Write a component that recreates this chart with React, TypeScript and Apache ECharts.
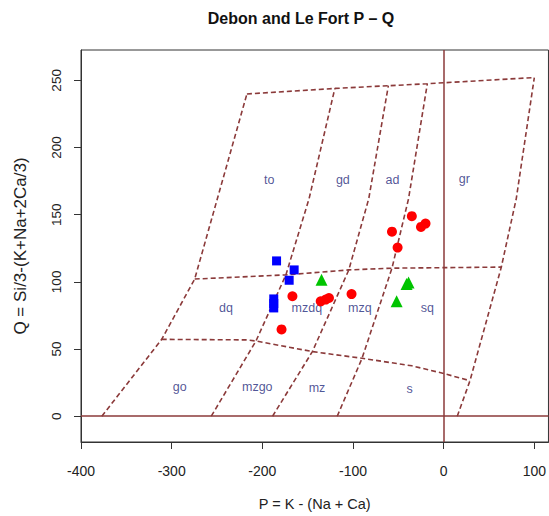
import { useEffect, useRef } from "react";
import * as echarts from "echarts";

// Axis ticks
const xTicks = [-400, -300, -200, -100, 0, 100];
const yTicks = [0, 50, 100, 150, 200, 250];

// Field boundaries of the P–Q diagram, as [P, Q] vertices
const upperBoundary = [[-217, 239.9], [-120, 244], [-61, 246], [-18, 247.5], [100, 252.1]];
const middleBoundary = [[-274.6, 102.1], [-174, 105.2], [-104.6, 108.9], [-57, 110.2], [63.6, 111]];
const lowerBoundary = [[-311, 57.2], [-218, 56.8], [-207, 56], [-144.8, 48.1], [-90, 43.1], [-35, 37.5], [0, 31.8], [29, 26.4]];
const divider1 = [[-377, 0], [-311, 57.2], [-274.6, 102.1], [-217, 239.9]];
const divider2 = [[-256.3, 0], [-207, 56], [-174, 105.2], [-148.4, 162], [-120, 244]];
const divider3 = [[-188.7, 0], [-144.8, 48.1], [-104.6, 108.9], [-82.6, 162], [-61, 246]];
const divider4 = [[-117.4, 0], [-90, 43.1], [-57, 110.2], [-38.7, 162], [-18, 247.5]];
const divider5 = [[15, 0], [29, 26.4], [63.6, 111], [80.1, 162], [100, 252.1]];

// Field names and their label positions [name, P, Q]
const fieldLabels: [string, number, number][] = [
  ["to", -192.3, 176.1],
  ["gd", -111.2, 176.1],
  ["ad", -56.4, 176.1],
  ["gr", 22.7, 176.8],
  ["dq", -240.2, 80.6],
  ["mzdq", -150.9, 80.6],
  ["mzq", -92.5, 80.6],
  ["sq", -17.9, 80.6],
  ["go", -291, 21.4],
  ["mzgo", -205.6, 21.4],
  ["mz", -139.7, 20.7],
  ["s", -37.6, 20],
];

// Samples
const circleSamples = [
  [-166.8, 89.3], [-135.6, 85.5], [-130.1, 86.8], [-126.5, 88], [-101.6, 90.9],
  [-178.8, 64.6], [-35.1, 148.9], [-57, 137.4], [-25, 140.9], [-20, 143.4], [-50.8, 125.5],
];
const squareSamples = [
  [-184.3, 115.6], [-164.9, 108.9], [-170.4, 101.2],
  [-187.4, 87.3], [-187.4, 83.9], [-187.4, 80.6],
];
const triangleSamples = [
  [-134.7, 101.6], [-38.7, 99.6], [-40.9, 98.4], [-51.9, 85.5],
];

const FONT = "'Liberation Sans', Arial, sans-serif";
const LINE_COLOR = "#8B3A3A";
const FIELD_COLOR = "#1F2A7C";

function boundarySeries(data: number[][]) {
  return {
    type: "line",
    data,
    showSymbol: false,
    symbol: "none",
    silent: true,
    z: 2,
    lineStyle: { color: LINE_COLOR, width: 1.6, type: [5, 3] },
  };
}

export default function App() {
  const ref = useRef<HTMLDivElement>(null);

  useEffect(() => {
    if (!ref.current) return;
    const chart = echarts.init(ref.current, null, { renderer: "svg" });
    chart.setOption({
      animation: false,
      backgroundColor: "#ffffff",
      graphic: [
        {
          type: "text",
          x: 301,
          y: 18,
          style: {
            text: "Debon and Le Fort P \u2013 Q",
            fontFamily: FONT,
            fontSize: 16,
            fontWeight: "bold",
            fill: "#111",
            align: "center",
            verticalAlign: "middle",
          },
        },
      ],
      grid: {
        left: 81,
        top: 50,
        width: 470,
        height: 395,
        show: true,
        borderColor: "#333",
        borderWidth: 1,
      },
      xAxis: {
        type: "value",
        min: -400,
        max: 115.6,
        name: "P = K - (Na + Ca)",
        nameLocation: "middle",
        nameGap: 54,
        nameTextStyle: { fontFamily: FONT, fontSize: 14.5, color: "#222" },
        axisLine: { show: true, onZero: false, lineStyle: { color: "#333", width: 1 } },
        axisTick: { show: true, length: 7, customValues: xTicks, lineStyle: { color: "#333" } },
        axisLabel: { customValues: xTicks, margin: 22, fontFamily: FONT, fontSize: 14, color: "#222" },
        splitLine: { show: false },
      },
      yAxis: {
        type: "value",
        min: -19.2,
        max: 272.6,
        name: "Q = Si/3-(K+Na+2Ca/3)",
        nameLocation: "middle",
        nameGap: 52,
        nameTextStyle: { fontFamily: FONT, fontSize: 17, color: "#222" },
        axisLine: { show: true, onZero: false, lineStyle: { color: "#333", width: 1 } },
        axisTick: { show: true, length: 7, customValues: yTicks, lineStyle: { color: "#333" } },
        axisLabel: { customValues: yTicks, rotate: 90, margin: 18, fontFamily: FONT, fontSize: 13.5, color: "#222" },
        splitLine: { show: false },
      },
      series: [
        {
          type: "line",
          data: [],
          silent: true,
          markLine: {
            silent: true,
            symbol: "none",
            label: { show: false },
            lineStyle: { color: LINE_COLOR, type: "solid", width: 1.5 },
            data: [{ yAxis: 0 }, { xAxis: 0 }],
          },
        },
        boundarySeries(upperBoundary),
        boundarySeries(middleBoundary),
        boundarySeries(lowerBoundary),
        boundarySeries(divider1),
        boundarySeries(divider2),
        boundarySeries(divider3),
        boundarySeries(divider4),
        boundarySeries(divider5),
        {
          type: "scatter",
          silent: true,
          symbolSize: 1,
          itemStyle: { color: "transparent" },
          z: 3,
          data: fieldLabels.map(([name, x, y]) => ({ name, value: [x, y] })),
          label: {
            show: true,
            position: "inside",
            formatter: "{b}",
            fontFamily: FONT,
            fontSize: 12.5,
            color: FIELD_COLOR,
          },
        },
        {
          name: "squares",
          type: "scatter",
          symbol: "rect",
          symbolSize: 9,
          itemStyle: { color: "#0000FF", opacity: 1 },
          z: 5,
          data: squareSamples,
        },
        {
          name: "circles",
          type: "scatter",
          symbol: "circle",
          symbolSize: 10,
          itemStyle: { color: "#FF0000", opacity: 1 },
          z: 5,
          data: circleSamples,
        },
        {
          name: "triangles",
          type: "scatter",
          symbol: "triangle",
          symbolSize: 12,
          itemStyle: { color: "#00C400", opacity: 1 },
          z: 5,
          data: triangleSamples,
        },
      ],
    });
    return () => chart.dispose();
  }, []);

  return (
    <div
      ref={ref}
      style={{ position: "absolute", left: 0, top: 0, width: 549, height: 516, background: "#fff" }}
    />
  );
}
